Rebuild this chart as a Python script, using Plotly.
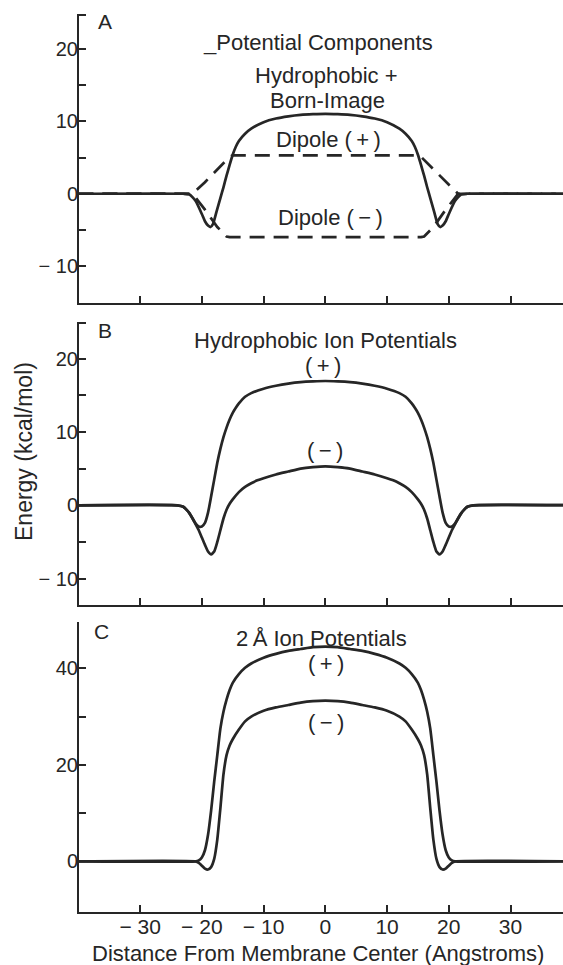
import plotly.graph_objects as go

# ---------------- data ----------------
# Panel A: Potential components
a_hb_x = [-40, -23, -22, -21, -20, -19.5, -19, -18.6, -18.2, -17.6, -17, -16.5, -16, -15.5, -15, -14.5, -14, -13, -12, -10, -8, -6, -4, -2, 0,
          2, 4, 6, 8, 10, 12, 13, 14, 14.5, 15, 15.5, 16, 16.5, 17, 17.6, 18.2, 18.6, 19, 19.5, 20, 21, 22, 23, 40]
a_hb_y = [0, 0, -0.1, -1.0, -2.8, -3.8, -4.4, -4.6, -4.2, -2.4, -0.6, 0.9, 2.5, 4.0, 5.4, 6.5, 7.3, 8.3, 9.0, 9.9, 10.4, 10.7, 10.9, 11.0, 11.05,
          11.0, 10.9, 10.7, 10.4, 9.9, 9.0, 8.3, 7.3, 6.5, 5.4, 4.0, 2.5, 0.9, -0.6, -2.4, -4.2, -4.6, -4.4, -3.8, -2.8, -1.0, -0.1, 0, 0]

a_dp_x = [-40, -21.5, -19.5, -17.5, -15.5, -15, 15, 15.5, 17.5, 19.5, 21.5, 40]
a_dp_y = [0, 0, 1.6, 3.4, 5.1, 5.3, 5.3, 5.1, 3.4, 1.6, 0, 0]

a_dm_x = [-40, -21.5, -19.5, -17.5, -16, -15.5, 15.5, 16, 17.5, 19.5, 21.5, 40]
a_dm_y = [0, 0, -2.2, -4.6, -5.9, -6.0, -6.0, -5.9, -4.6, -2.2, 0, 0]

# Panel B: Hydrophobic ion potentials
b_pos_x = [-40, -24, -23, -22.5, -22, -21.5, -21, -20.5, -20, -19.5, -19, -18.5, -18, -17.5, -17, -16.5, -16, -15.5, -15, -14.5, -14, -13, -12, -10, -8, -6, -4, -2, 0,
           2, 4, 6, 8, 10, 12, 13, 14, 14.5, 15, 15.5, 16, 16.5, 17, 17.5, 18, 18.5, 19, 19.5, 20, 20.5, 21, 21.5, 22, 22.5, 23, 24, 40]
b_pos_y = [0, 0, -0.2, -0.6, -1.1, -1.8, -2.5, -2.9, -2.9, -2.4, -1.0, 1.2, 3.5, 5.8, 7.7, 9.3, 10.6, 11.7, 12.6, 13.3, 13.9, 14.8, 15.3, 15.9, 16.3, 16.6, 16.8, 16.9, 16.95,
           16.9, 16.8, 16.6, 16.3, 15.9, 15.3, 14.8, 13.9, 13.3, 12.6, 11.7, 10.6, 9.3, 7.7, 5.8, 3.5, 1.2, -1.0, -2.4, -2.9, -2.9, -2.5, -1.8, -1.1, -0.6, -0.2, 0, 0]

b_neg_x = [-40, -24, -23, -22.5, -22, -21.5, -21, -20.5, -20, -19.5, -19, -18.5, -18, -17.5, -17, -16.5, -16, -15.5, -15, -14, -13, -12, -11, -10, -8, -6, -4, -2, 0,
           2, 4, 6, 8, 10, 11, 12, 13, 14, 15, 15.5, 16, 16.5, 17, 17.5, 18, 18.5, 19, 19.5, 20, 20.5, 21, 21.5, 22, 22.5, 23, 24, 40]
b_neg_y = [0, 0, -0.2, -0.6, -1.1, -1.8, -2.6, -3.4, -4.4, -5.4, -6.3, -6.7, -6.3, -5.0, -3.4, -1.8, -0.6, 0.2, 0.8, 1.8, 2.5, 3.0, 3.4, 3.7, 4.2, 4.6, 5.0, 5.2, 5.3,
           5.2, 5.0, 4.6, 4.2, 3.7, 3.4, 3.0, 2.5, 1.8, 0.8, 0.2, -0.6, -1.8, -3.4, -5.0, -6.3, -6.7, -6.3, -5.4, -4.4, -3.4, -2.6, -1.8, -1.1, -0.6, -0.2, 0, 0]

# Panel C: 2 Å ion potentials
c_pos_x = [-40, -21, -20.5, -20, -19.5, -19, -18.5, -18, -17.5, -17, -16.5, -16, -15.5, -15, -14, -13, -12, -10, -8, -6, -4, -2, 0,
           2, 4, 6, 8, 10, 12, 13, 14, 15, 15.5, 16, 16.5, 17, 17.5, 18, 18.5, 19, 19.5, 20, 20.5, 21, 40]
c_pos_y = [0, 0, 0.2, 0.8, 2.3, 5.5, 10.5, 16.5, 22, 27.5, 31, 33.5, 35.5, 37, 38.8, 40.1, 41.0, 42.2, 43.0, 43.6, 44.0, 44.4, 44.5,
           44.4, 44.0, 43.6, 43.0, 42.2, 41.0, 40.1, 38.8, 37, 35.5, 33.5, 31, 27.5, 22, 16.5, 10.5, 5.5, 2.3, 0.8, 0.2, 0, 0]

c_neg_x = [-40, -21, -20.5, -20, -19.5, -19, -18.5, -18, -17.5, -17, -16.5, -16, -15.5, -15, -14, -13, -12, -10, -8, -6, -4, -2, 0,
           2, 4, 6, 8, 10, 12, 13, 14, 15, 15.5, 16, 16.5, 17, 17.5, 18, 18.5, 19, 19.5, 20, 20.5, 21, 40]
c_neg_y = [0, 0, -0.3, -0.9, -1.5, -1.7, -1.2, 0.5, 4.5, 11, 18, 22, 24, 25.3, 27.3, 29, 30, 31.2, 31.9, 32.4, 32.9, 33.2, 33.3,
           33.2, 32.9, 32.4, 31.9, 31.2, 30, 29, 27.3, 25.3, 24, 22, 18, 11, 4.5, 0.5, -1.2, -1.7, -1.5, -0.9, -0.3, 0, 0]

x_tick_vals = [-30, -20, -10, 0, 10, 20, 30]
x_tick_text = ["\u2212 30", "\u2212 20", "\u2212 10", "0", "10", "20", "30"]

a_ytick_vals = [-10, -5, 0, 5, 10, 15, 20, 24.7]
a_ytick_text = ["\u2212 10", "", "0", "", "10", "", "20", ""]
b_ytick_vals = [-10, -5, 0, 5, 10, 15, 20, 24.8]
b_ytick_text = ["\u2212 10", "", "0", "", "10", "", "20", ""]
c_ytick_vals = [0, 10, 20, 30, 40, 49.5]
c_ytick_text = ["0", "", "20", "", "40", ""]

# ---------------- figure ----------------
W, H = 563, 965
INK = "#262626"
FONT = "Liberation Sans, Arial, Helvetica, sans-serif"


def py(p):
    return 1 - p / H


fig = go.Figure()
line = dict(color=INK, width=2.7, shape="spline", smoothing=0.5)
dash_line = dict(color=INK, width=2.7, dash="15px,9px")

fig.add_trace(go.Scatter(x=a_hb_x, y=a_hb_y, mode="lines", line=line, xaxis="x", yaxis="y"))
fig.add_trace(go.Scatter(x=a_dp_x, y=a_dp_y, mode="lines", line=dash_line, xaxis="x", yaxis="y"))
fig.add_trace(go.Scatter(x=a_dm_x, y=a_dm_y, mode="lines", line=dash_line, xaxis="x", yaxis="y"))
fig.add_trace(go.Scatter(x=b_pos_x, y=b_pos_y, mode="lines", line=line, xaxis="x2", yaxis="y2"))
fig.add_trace(go.Scatter(x=b_neg_x, y=b_neg_y, mode="lines", line=line, xaxis="x2", yaxis="y2"))
fig.add_trace(go.Scatter(x=c_pos_x, y=c_pos_y, mode="lines", line=line, xaxis="x3", yaxis="y3"))
fig.add_trace(go.Scatter(x=c_neg_x, y=c_neg_y, mode="lines", line=line, xaxis="x3", yaxis="y3"))

xdom = [79 / W, 1.0]
xrange_ = [-39.9, 38.5]
common_x = dict(domain=xdom, range=xrange_, showline=True, linecolor=INK, linewidth=2,
                ticks="inside", ticklen=7, tickwidth=2, tickcolor=INK,
                tickvals=x_tick_vals, showgrid=False, zeroline=False, fixedrange=True,
                automargin=False)
common_y = dict(showline=True, linecolor=INK, linewidth=2, ticks="inside", ticklen=7,
                tickwidth=2, tickcolor=INK, showgrid=False, zeroline=False,
                tickfont=dict(size=20, color=INK, family=FONT), automargin=False,
                ticklabelstandoff=-5, fixedrange=True)

fig.update_layout(
    width=W, height=H,
    margin=dict(l=0, r=0, t=0, b=0),
    paper_bgcolor="white", plot_bgcolor="white",
    showlegend=False,
    font=dict(family=FONT, color=INK),
    xaxis=dict(**common_x, anchor="y", showticklabels=False),
    xaxis2=dict(**common_x, anchor="y2", showticklabels=False),
    xaxis3=dict(**common_x, anchor="y3", ticktext=x_tick_text, ticklabelstandoff=-5,
                tickfont=dict(size=21, color=INK, family=FONT)),
    yaxis=dict(**common_y, domain=[py(303), py(14)], range=[-15.1, 24.85], anchor="x",
               tickvals=a_ytick_vals, ticktext=a_ytick_text),
    yaxis2=dict(**common_y, domain=[py(605), py(322)], range=[-13.6, 25.0], anchor="x2",
                tickvals=b_ytick_vals, ticktext=b_ytick_text),
    yaxis3=dict(**common_y, domain=[py(912), py(622)], range=[-10.5, 49.6], anchor="x3",
                tickvals=c_ytick_vals, ticktext=c_ytick_text),
)

labels = [
    ("A", 105, 22, 21),
    ("_Potential Components", 318, 42, 22),
    ("Hydrophobic +", 326, 75, 22),
    ("Born-Image", 327, 100, 22),
    ("Dipole (\u2009+\u2009)", 328, 139, 22),
    ("Dipole (\u2009\u2212\u2009)", 330, 217, 22),
    ("B", 105, 331, 21),
    ("Hydrophobic Ion Potentials", 325, 341, 22),
    ("(\u2009+\u2009)", 323, 365, 22),
    ("(\u2009\u2212\u2009)", 325, 451, 22),
    ("C", 101, 631, 21),
    ("2\u2009\u00c5 Ion Potentials", 321, 638, 22),
    ("(\u2009+\u2009)", 326, 663, 22),
    ("(\u2009\u2212\u2009)", 326, 722, 22),
    ("Distance From Membrane Center (Angstroms)", 318, 953, 22),
]
for text, xp, ypx, size in labels:
    fig.add_annotation(text=text, x=xp / W, y=py(ypx), xref="paper", yref="paper",
                       xanchor="center", yanchor="middle", showarrow=False,
                       font=dict(size=size, color=INK, family=FONT))

fig.add_annotation(text="Energy (kcal/mol)", x=24 / W, y=py(452), xref="paper", yref="paper",
                   xanchor="center", yanchor="middle", showarrow=False, textangle=-90,
                   font=dict(size=23, color=INK, family=FONT))

fig.write_html("out.html",
               config={"displayModeBar": False, "staticPlot": True},
               post_script="document.body.style.margin='0';"
                           "document.body.style.overflow='hidden';"
                           "document.documentElement.style.overflow='hidden';")
